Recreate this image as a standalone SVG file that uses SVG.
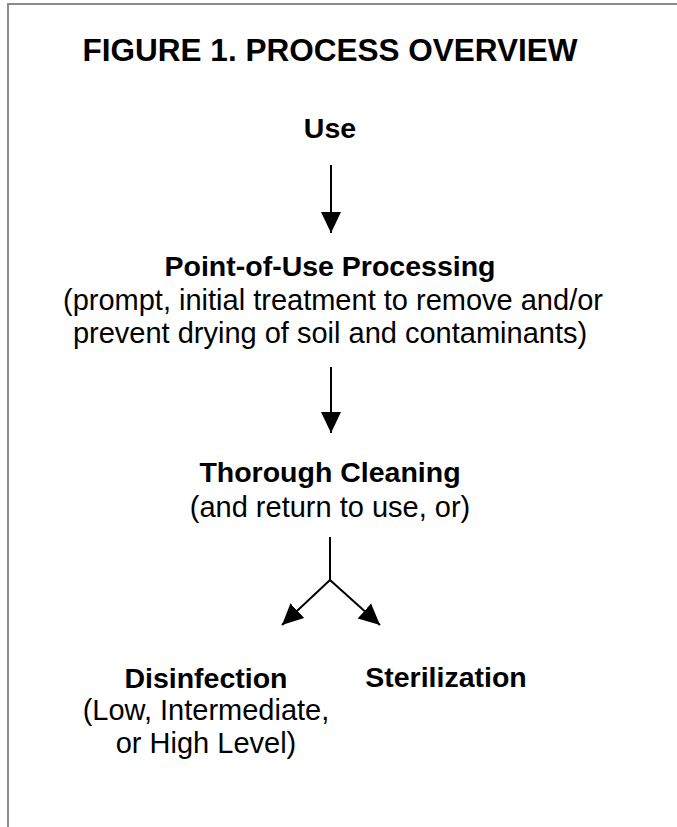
<svg xmlns="http://www.w3.org/2000/svg" width="677" height="827" viewBox="0 0 677 827">
<style>
text{font-family:"Liberation Sans",Arial,sans-serif;fill:#000;text-anchor:middle}
.t{font-size:31.5px;font-weight:bold}
.h{font-size:28.5px;font-weight:bold}
.b{font-size:29px}
.c{stroke:#000;stroke-width:2;fill:none;marker-end:url(#ah)}
</style>
<defs>
<marker id="ah" markerUnits="userSpaceOnUse" markerWidth="22" markerHeight="22" refX="21" refY="10" orient="auto" viewBox="0 0 22 20">
<path d="M0,0 L21,10 L0,20 Z" fill="#000"/>
</marker>
</defs>
<rect width="677" height="827" fill="#fff"/>
<path d="M8,827 V4 H677" fill="none" stroke="#8c8c8c" stroke-width="2"/>
<text class="t" x="330" y="61">FIGURE 1. PROCESS OVERVIEW</text>
<g id="use"><text class="h" x="330" y="138">Use</text></g>
<g id="pou"><text class="h" x="330" y="276">Point-of-Use Processing</text>
<text class="b" x="333" y="310">(prompt, initial treatment to remove and/or</text>
<text class="b" x="330" y="343">prevent drying of soil and contaminants)</text></g>
<g id="clean"><text class="h" x="330" y="482">Thorough Cleaning</text>
<text class="b" x="330" y="517">(and return to use, or)</text></g>
<g id="disinf"><text class="h" x="206" y="688">Disinfection</text>
<text class="b" x="206" y="720">(Low, Intermediate,</text>
<text class="b" x="206" y="753">or High Level)</text></g>
<g id="steril"><text class="h" x="446" y="687">Sterilization</text></g>
<g id="connectors">
<path class="c" d="M331,165 V233"/>
<path class="c" d="M331,367 V433"/>
<path d="M330,537 V580" stroke="#000" stroke-width="2" fill="none"/>
<path class="c" d="M330,580 L282,625"/>
<path class="c" d="M330,580 L380,625"/>
</g>
</svg>
